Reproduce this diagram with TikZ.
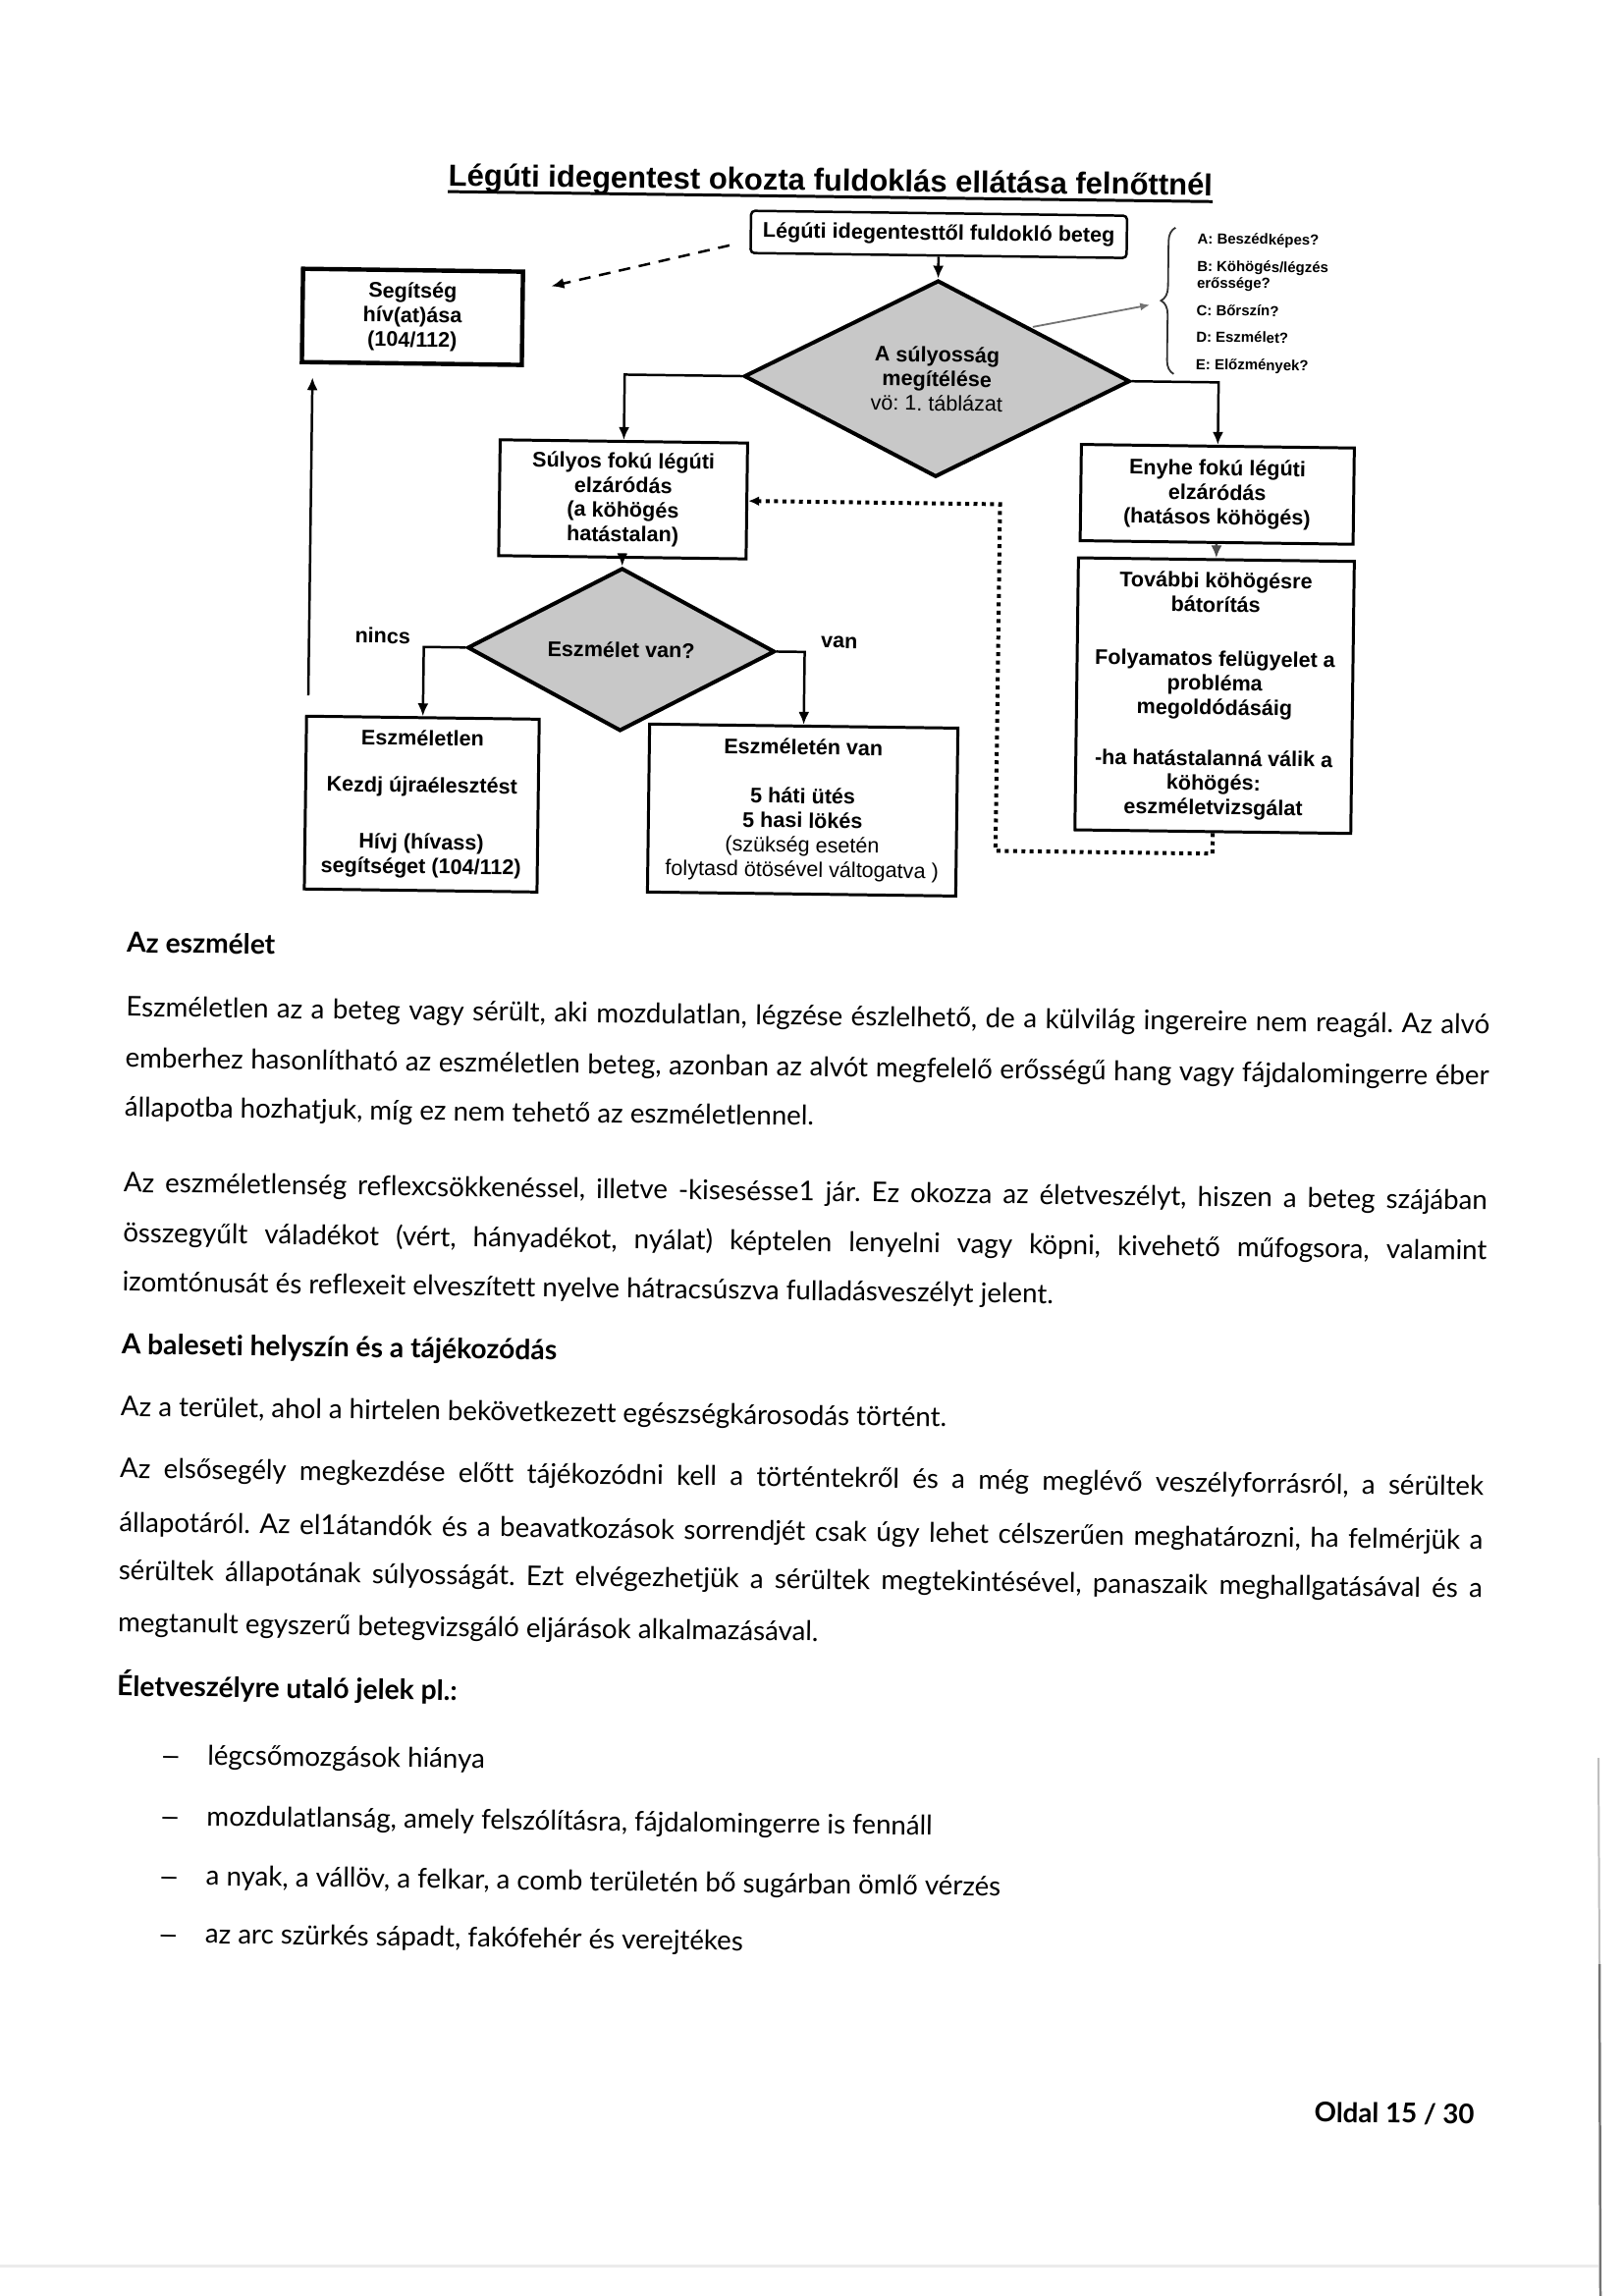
\documentclass[tikz,border=0pt]{standalone}
\usepackage{fontspec}
\setmainfont{Lato}[Ligatures={NoCommon}]
\newfontfamily\arialf{Liberation Sans}
\usetikzlibrary{arrows.meta,decorations.pathreplacing,calc,shapes.geometric}
\newdimen\pxu \pxu=0.12704mm
\definecolor{diamgray}{RGB}{200,200,200}
\newcommand\fcf{\arialf\bfseries\fontsize{7.8pt}{9pt}\selectfont}
\newcommand\titlef{\arialf\bfseries\fontsize{11.2pt}{13pt}\selectfont}
\newcommand\brf{\arialf\bfseries\fontsize{5.4pt}{6.5pt}\selectfont}
\newcommand\bodyf{\fontsize{10pt}{12pt}\selectfont}
\newcommand\headf{\bfseries\fontsize{10.2pt}{12pt}\selectfont}
\newcommand\oldalf{\bfseries\fontsize{10pt}{12pt}\selectfont}
\newcommand\jl[1]{\makebox[1389\pxu][s]{#1}}
\frenchspacing
\tikzset{
  fbox/.style={draw, line width=1.08pt, fill=white, align=center, inner sep=0pt, font=\fcf},
  fdiam/.style={diamond, draw, line width=1.44pt, fill=diamgray, inner sep=0pt, align=center, font=\fcf},
  conn/.style={line width=0.9pt, -{Latex[length=4.7pt,width=4pt]}},
  dotline/.style={line width=1.44pt, dash pattern=on 1.44pt off 1.62pt, -{Latex[length=4pt,width=3.6pt]}},
  bodyline/.style={anchor=mid west, inner sep=0pt, font=\bodyf},
  headline/.style={anchor=mid west, inner sep=0pt, font=\headf},
  brline/.style={anchor=mid west, inner sep=0pt, font=\brf},
  dashline/.style={anchor=mid, inner sep=0pt, font=\arialf\fontsize{10pt}{12pt}\selectfont},
}
\begin{document}
\frenchspacing
\begin{tikzpicture}[x=0.12704mm, y=-0.12704mm]
\useasboundingbox (0,0) rectangle (1653,2338);
\fill[white] (0,0) rectangle (1653,2338);
\draw[black!25, line width=0.72pt] (1628,1790) -- (1629,2000);
\draw[black!55, line width=0.9pt] (1629,2000) -- (1630,2338);
\draw[black!8, line width=1.08pt] (0,2307) -- (1628,2307);
\begin{scope}[rotate around={-0.75:(826,1169)}, transform shape]
% title
\node[font=\titlef, anchor=base, inner sep=0pt] (title) at (833,194) {Légúti idegentest okozta fuldoklás ellátása felnőttnél};
\draw[line width=1.08pt] ($(title.base west)+(0,6)$) -- ($(title.base east)+(0,6)$);
% flowchart nodes
\node[fbox, rounded corners=1.44pt, line width=0.9pt, minimum width=383\pxu, minimum height=43\pxu] (beteg) at (944,237) {Légúti idegentesttől fuldokló beteg};
\node[fbox, line width=1.6pt, minimum width=224\pxu, minimum height=95\pxu] (seg) at (409,328) {Segítség\\hív(at)ása\\(104/112)};
\node[fdiam, minimum width=393\pxu, minimum height=134\pxu] (sulyossag) at (944,384) {A súlyosság\\megítélése\\{\mdseries vö: 1. táblázat}};
\node[fbox, minimum width=252\pxu, minimum height=118\pxu] (sulyos) at (626,511) {Súlyos fokú légúti\\elzáródás\\(a köhögés\\hatástalan)};
\node[fbox, minimum width=278\pxu, minimum height=98\pxu] (enyhe) at (1231,498) {Enyhe fokú légúti\\elzáródás\\(hatásos köhögés)};
\node[fbox, minimum width=281\pxu, minimum height=277\pxu] (tovabbi) at (1231,703) {További köhögésre\\bátorítás\\[10.8pt]Folyamatos felügyelet a\\probléma\\megoldódásáig\\[9.7pt]-ha hatástalanná válik a\\köhögés:\\eszméletvizsgálat};
\node[fdiam, minimum width=313\pxu, minimum height=72\pxu] (eszm) at (626,664) {Eszmélet van?};
\node[fbox, minimum width=237\pxu, minimum height=176\pxu] (eszmtlen) at (425,824) {Eszméletlen\\[8.3pt]Kezdj újraélesztést\\[11.9pt]Hívj (hívass)\\segítséget (104/112)};
\node[fbox, minimum width=314\pxu, minimum height=171\pxu] (eszmten) at (813,825) {Eszméletén van\\[9pt]5 háti ütés\\5 hasi lökés\\{\mdseries (szükség esetén}\\{\mdseries folytasd ötösével váltogatva )}};
\node[font=\fcf, inner sep=0pt] (nincs) at (383,653) {nincs};
\node[font=\fcf, inner sep=0pt] (van) at (848,654) {van};
% brace list
\node[brline] (la) at (1207,236) {A: Beszédképes?};
\node[brline] (lb) at (1207,264) {B: Köhögés/légzés};
\node[brline] (lb2) at (1207,281) {erőssége?};
\node[brline] (lc) at (1207,309) {C: Bőrszín?};
\node[brline] (ld) at (1207,336) {D: Eszmélet?};
\node[brline] (le) at (1207,364) {E: Előzmények?};
\draw[line width=0.65pt, black!80, decorate, decoration={brace, amplitude=5pt}] (1185,376) -- (1185,227);
% connectors
\draw[conn] (beteg.south) -- (sulyossag.north);
\draw[conn] (sulyossag.west) -| (sulyos.north);
\draw[conn] (sulyossag.east) -| (enyhe.north);
\draw[conn, draw=black!70] (enyhe.south) -- (tovabbi.north);
\draw[conn] (sulyos.south) -- (eszm.north);
\draw[conn] (eszm.west) -| (eszmtlen.north);
\draw[conn] (eszm.east) -| (eszmten.north);
\coordinate (lstart) at (308,715);
\coordinate (lend) at (308,391);
\draw[conn] (lstart) -- (lend);
\coordinate (dstart) at (731,251);
\coordinate (dend) at (550,295);
\draw[conn, dash pattern=on 4.3pt off 3.2pt] (dstart) -- (dend);
\coordinate (gstart) at (1041,330);
\coordinate (gend) at (1160,306);
\draw[line width=0.65pt, black!55, -{Latex[length=3.6pt,width=2.9pt]}] (gstart) -- (gend);
\coordinate (dotc) at (1010,864);
\draw[dotline] (tovabbi.south) -- (tovabbi.south |- dotc) -- (dotc) -- (dotc |- sulyos.east) -- (sulyos.east);
% body text
\node[headline] (h1) at (126,972) {Az eszmélet};
\node[bodyline] (p1a) at (126,1037) {\jl{Eszméletlen az a beteg vagy sérült, aki mozdulatlan, légzése észlelhető, de a külvilág ingereire nem reagál. Az alvó}};
\node[bodyline] (p1b) at (126,1089) {\jl{emberhez hasonlítható az eszméletlen beteg, azonban az alvót megfelelő erősségű hang vagy fájdalomingerre éber}};
\node[bodyline] (p1c) at (126,1139) {állapotba hozhatjuk, míg ez nem tehető az eszméletlennel.};
\node[bodyline] (p2a) at (126,1216) {\jl{Az eszméletlenség reflexcsökkenéssel, illetve -kisesésse1 jár. Ez okozza az életveszélyt, hiszen a beteg szájában}};
\node[bodyline] (p2b) at (126,1267) {\jl{összegyűlt váladékot (vért, hányadékot, nyálat) képtelen lenyelni vagy köpni, kivehető műfogsora, valamint}};
\node[bodyline] (p2c) at (126,1317) {izomtónusát és reflexeit elveszített nyelve hátracsúszva fulladásveszélyt jelent.};
\node[headline] (h2) at (126,1381) {A baleseti helyszín és a tájékozódás};
\node[bodyline] (p3) at (126,1444) {Az a terület, ahol a hirtelen bekövetkezett egészségkárosodás történt.};
\node[bodyline] (p4a) at (126,1507) {\jl{Az elsősegély megkezdése előtt tájékozódni kell a történtekről és a még meglévő veszélyforrásról, a sérültek}};
\node[bodyline] (p4b) at (126,1562) {\jl{állapotáról. Az el1átandók és a beavatkozások sorrendjét csak úgy lehet célszerűen meghatározni, ha felmérjük a}};
\node[bodyline] (p4c) at (126,1611) {\jl{sérültek állapotának súlyosságát. Ezt elvégezhetjük a sérültek megtekintésével, panaszaik meghallgatásával és a}};
\node[bodyline] (p4d) at (126,1664) {megtanult egyszerű betegvizsgáló eljárások alkalmazásával.};
\node[headline] (h3) at (126,1729) {Életveszélyre utaló jelek pl.:};
\node[dashline] (d1) at (182,1798) {–};
\node[bodyline] (b1) at (219,1798) {légcsőmozgások hiánya};
\node[dashline] (d2) at (182,1860) {–};
\node[bodyline] (b2) at (219,1860) {mozdulatlanság, amely felszólításra, fájdalomingerre is fennáll};
\node[dashline] (d3) at (182,1921) {–};
\node[bodyline] (b3) at (219,1921) {a nyak, a vállöv, a felkar, a comb területén bő sugárban ömlő vérzés};
\node[dashline] (d4) at (182,1980) {–};
\node[bodyline] (b4) at (219,1980) {az arc szürkés sápadt, fakófehér és verejtékes};
\node[anchor=mid east, inner sep=0pt, font=\oldalf] (oldal) at (1515,2147) {Oldal 15 / 30};
\end{scope}
\end{tikzpicture}
\end{document}
